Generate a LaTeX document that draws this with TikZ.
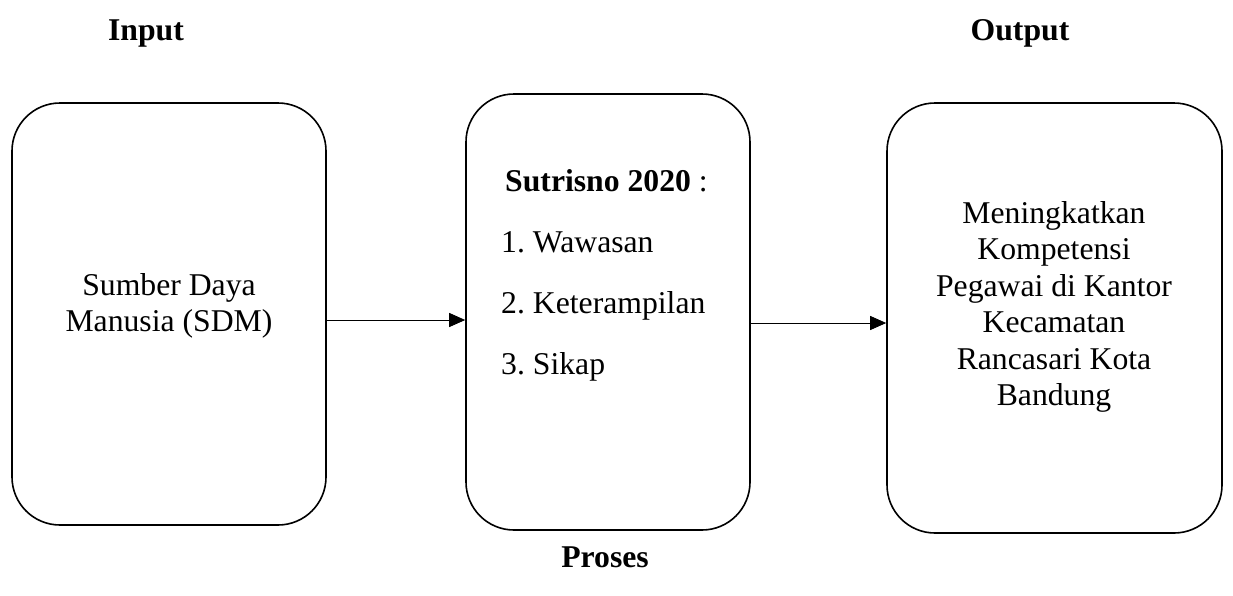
\documentclass[tikz,border=0pt]{standalone}
\usepackage{fontspec}
\setmainfont{Liberation Serif}
\usetikzlibrary{arrows.meta}
\frenchspacing
\begin{document}
\begin{tikzpicture}[x=1pt,y=-1pt,
  boxstyle/.style={draw=black,line width=1.6pt,rounded corners=48pt,inner sep=0pt},
  txt/.style={font=\fontsize{31.7pt}{36.5pt}\selectfont,inner sep=0pt},
  head/.style={font=\fontsize{31.7pt}{36.5pt}\selectfont\bfseries,inner sep=0pt,anchor=base},
  conn/.style={line width=0.9pt,-{Triangle[length=16pt,width=14pt]}}]
\useasboundingbox (0,0) rectangle (1233,595);
\node[boxstyle,minimum width=314pt,minimum height=422pt] (b1) at (169,314) {};
\node[boxstyle,minimum width=284pt,minimum height=436pt] (b2) at (608,312) {};
\node[boxstyle,minimum width=335pt,minimum height=430pt] (b3) at (1054.5,318) {};
\node[head] (hin) at (146,40) {Input};
\node[head] (hout) at (1020,40) {Output};
\node[head] (hpro) at (605,567) {Proses};
\node[txt,align=center] (t1) at (169,306) {Sumber Daya\\Manusia (SDM)};
\node[txt,anchor=base west] (l0) at (505,191) {\textbf{Sutrisno 2020} :};
\node[txt,anchor=base west] (l1) at (501,252) {1. Wawasan};
\node[txt,anchor=base west] (l2) at (501,313) {2. Keterampilan};
\node[txt,anchor=base west] (l3) at (501,374) {3. Sikap};
\node[txt,align=center] (t3) at (1054,307) {Meningkatkan\\Kompetensi\\Pegawai di Kantor\\Kecamatan\\Rancasari Kota\\Bandung};
\draw[conn] ([yshift=-6pt]b1.east) -- ([yshift=-8pt]b2.west);
\draw[conn] ([yshift=-11pt]b2.east) -- ([yshift=-5pt]b3.west);
\end{tikzpicture}
\end{document}
